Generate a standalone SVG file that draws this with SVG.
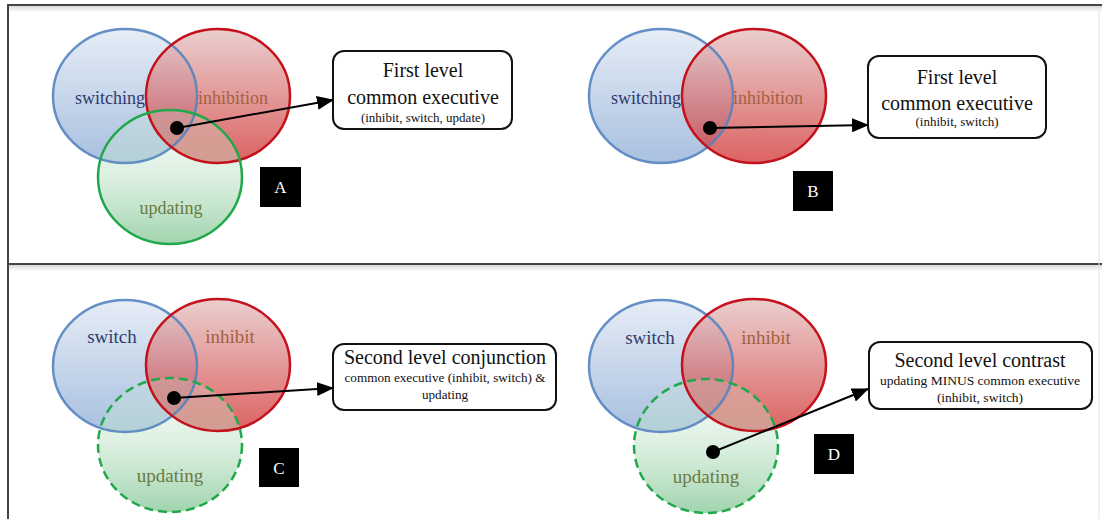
<svg xmlns="http://www.w3.org/2000/svg" width="1102" height="519" viewBox="0 0 1102 519">
<defs>
<linearGradient id="gBlue" x1="0" y1="0" x2="0" y2="1">
<stop offset="0" stop-color="#e3ebf5"/><stop offset="1" stop-color="#9fb9dc"/>
</linearGradient>
<linearGradient id="gRed" x1="0" y1="0" x2="0" y2="1">
<stop offset="0" stop-color="#e2bcbc"/><stop offset="1" stop-color="#cf2626"/>
</linearGradient>
<linearGradient id="gGreen" x1="0" y1="0" x2="0" y2="1">
<stop offset="0" stop-color="#cfead6" stop-opacity="0.2"/><stop offset="0.45" stop-color="#bfe3c8" stop-opacity="0.5"/><stop offset="1" stop-color="#8fcc9e" stop-opacity="0.85"/>
</linearGradient>
<linearGradient id="shade" x1="0" y1="0" x2="0" y2="1">
<stop offset="0" stop-color="#d8d8d8"/><stop offset="1" stop-color="#ffffff"/>
</linearGradient>
<marker id="arr" markerUnits="userSpaceOnUse" markerWidth="17" markerHeight="14" refX="16" refY="7" orient="auto">
<path d="M0,0 L17,7 L0,14 z" fill="#000"/>
</marker>
</defs>
<style>
.blue{fill:url(#gBlue);fill-opacity:0.9;stroke:none}
.red{fill:url(#gRed);fill-opacity:0.72;stroke:none}
.green{fill:url(#gGreen);stroke:none}
.ob{fill:none;stroke:#5584c0;stroke-width:2.5;stroke-opacity:0.9}
.or{fill:none;stroke:#c4111b;stroke-width:2.5}
.og{fill:none;stroke:#20a84a;stroke-width:2.5}
.dash{stroke-dasharray:9 5}
.lbl{font-family:"Liberation Serif","Times New Roman",serif;text-anchor:middle}
.sw{fill:#2f3a6c}
.in{fill:#a2623f}
.up{fill:#6b7a42}
.box{fill:#fff;stroke:#111;stroke-width:2}
.bt{font-family:"Liberation Serif","Times New Roman",serif;text-anchor:middle;fill:#111}
.tag{fill:#000}
.tagt{font-family:"Liberation Serif","Times New Roman",serif;font-size:17px;fill:#fff;text-anchor:middle}
.con{stroke:#000;stroke-width:2;fill:none}
.frame{stroke:#444;stroke-width:2;fill:none}
</style>
<rect x="0" y="0" width="1102" height="519" fill="#fff"/>
<g id="frame">
<rect x="9" y="6" width="1093" height="6" fill="url(#shade)"/>
<rect x="9" y="265" width="1093" height="6" fill="url(#shade)"/>
<line class="frame" x1="8" y1="5" x2="1102" y2="5"/>
<line class="frame" x1="8" y1="4" x2="8" y2="519"/>
<line class="frame" x1="8" y1="264" x2="1102" y2="264"/>
<line x1="1099" y1="8" x2="1099" y2="519" stroke="#e2e2e2" stroke-width="1"/>
</g>
<g id="panelA">
<g id="A-switching"><ellipse class="blue" cx="125" cy="96" rx="72" ry="67"/></g>
<g id="A-inhibition"><ellipse class="red" cx="218" cy="96" rx="72" ry="67"/></g>
<g id="A-updating"><ellipse class="green" cx="170" cy="177" rx="72" ry="67"/></g>
<g id="A-outlines">
<ellipse class="ob" cx="125" cy="96" rx="72" ry="67"/>
<ellipse class="or" cx="218" cy="96" rx="72" ry="67"/>
<ellipse class="og" cx="170" cy="177" rx="72" ry="67"/>
</g>
<text class="lbl sw" x="110" y="104" font-size="18">switching</text>
<text class="lbl in" x="233" y="104" font-size="18">inhibition</text>
<text class="lbl up" x="171" y="214" font-size="18">updating</text>
<g id="A-box"><rect class="box" x="333" y="51" width="179" height="78" rx="11"/>
<text class="bt" x="423" y="77" font-size="20">First level</text>
<text class="bt" x="423" y="104" font-size="20">common executive</text>
<text class="bt" x="423" y="122" font-size="13">(inhibit, switch, update)</text></g>
<g id="A-tag"><rect class="tag" x="260" y="167" width="41" height="40"/><text class="tagt" x="280.5" y="193">A</text></g>
</g>
<g id="panelB">
<g id="B-switching"><ellipse class="blue" cx="661" cy="96" rx="72" ry="67"/></g>
<g id="B-inhibition"><ellipse class="red" cx="754" cy="96" rx="72" ry="67"/></g>
<g id="B-outlines">
<ellipse class="ob" cx="661" cy="96" rx="72" ry="67"/>
<ellipse class="or" cx="754" cy="96" rx="72" ry="67"/>
</g>
<text class="lbl sw" x="646" y="104" font-size="18">switching</text>
<text class="lbl in" x="768" y="104" font-size="18">inhibition</text>
<g id="B-box"><rect class="box" x="868" y="56" width="178" height="82" rx="11"/>
<text class="bt" x="957" y="84" font-size="20">First level</text>
<text class="bt" x="957" y="110" font-size="20">common executive</text>
<text class="bt" x="957" y="126" font-size="13">(inhibit, switch)</text></g>
<g id="B-tag"><rect class="tag" x="793" y="171" width="40" height="40"/><text class="tagt" x="813" y="197">B</text></g>
</g>
<g id="panelC">
<g id="C-switch"><ellipse class="blue" cx="125" cy="366" rx="72" ry="66"/></g>
<g id="C-inhibit"><ellipse class="red" cx="218" cy="365" rx="72" ry="66"/></g>
<g id="C-updating"><ellipse class="green" cx="170" cy="445" rx="72" ry="67"/></g>
<g id="C-outlines">
<ellipse class="ob" cx="125" cy="366" rx="72" ry="66"/>
<ellipse class="or" cx="218" cy="365" rx="72" ry="66"/>
<ellipse class="og dash" cx="170" cy="445" rx="72" ry="67"/>
</g>
<text class="lbl sw" x="112" y="343" font-size="19">switch</text>
<text class="lbl in" x="230" y="343" font-size="19">inhibit</text>
<text class="lbl up" x="170" y="482" font-size="19">updating</text>
<g id="C-box"><rect class="box" x="333" y="344" width="223" height="66" rx="11"/>
<text class="bt" x="445" y="364" font-size="20">Second level conjunction</text>
<text class="bt" x="445" y="382" font-size="13.2">common executive (inhibit, switch) &amp;</text>
<text class="bt" x="445" y="399" font-size="13.2">updating</text></g>
<g id="C-tag"><rect class="tag" x="259" y="448" width="40" height="39"/><text class="tagt" x="279" y="474">C</text></g>
</g>
<g id="panelD">
<g id="D-switch"><ellipse class="blue" cx="661" cy="366" rx="72" ry="66"/></g>
<g id="D-inhibit"><ellipse class="red" cx="754" cy="365" rx="72" ry="66"/></g>
<g id="D-updating"><ellipse class="green" cx="706" cy="446" rx="72" ry="67"/></g>
<g id="D-outlines">
<ellipse class="ob" cx="661" cy="366" rx="72" ry="66"/>
<ellipse class="or" cx="754" cy="365" rx="72" ry="66"/>
<ellipse class="og dash" cx="706" cy="446" rx="72" ry="67"/>
</g>
<text class="lbl sw" x="650" y="344" font-size="19">switch</text>
<text class="lbl in" x="766" y="344" font-size="19">inhibit</text>
<text class="lbl up" x="706" y="483" font-size="19">updating</text>
<g id="D-box"><rect class="box" x="869" y="342" width="223" height="67" rx="11"/>
<text class="bt" x="980" y="367" font-size="20">Second level contrast</text>
<text class="bt" x="980" y="385" font-size="13.5">updating MINUS common executive</text>
<text class="bt" x="980" y="402" font-size="13.5">(inhibit, switch)</text></g>
<g id="D-tag"><rect class="tag" x="814" y="434" width="40" height="40"/><text class="tagt" x="834" y="460">D</text></g>
</g>
<g id="connectors">
<circle cx="177" cy="128" r="7" fill="#000"/>
<line class="con" x1="177" y1="128" x2="333" y2="100" marker-end="url(#arr)"/>
<circle cx="710" cy="128" r="7" fill="#000"/>
<line class="con" x1="710" y1="128" x2="868" y2="125" marker-end="url(#arr)"/>
<circle cx="174" cy="398" r="7" fill="#000"/>
<line class="con" x1="174" y1="398" x2="333" y2="388" marker-end="url(#arr)"/>
<circle cx="713" cy="452" r="7" fill="#000"/>
<line class="con" x1="713" y1="452" x2="868" y2="389" marker-end="url(#arr)"/>
</g>
</svg>
